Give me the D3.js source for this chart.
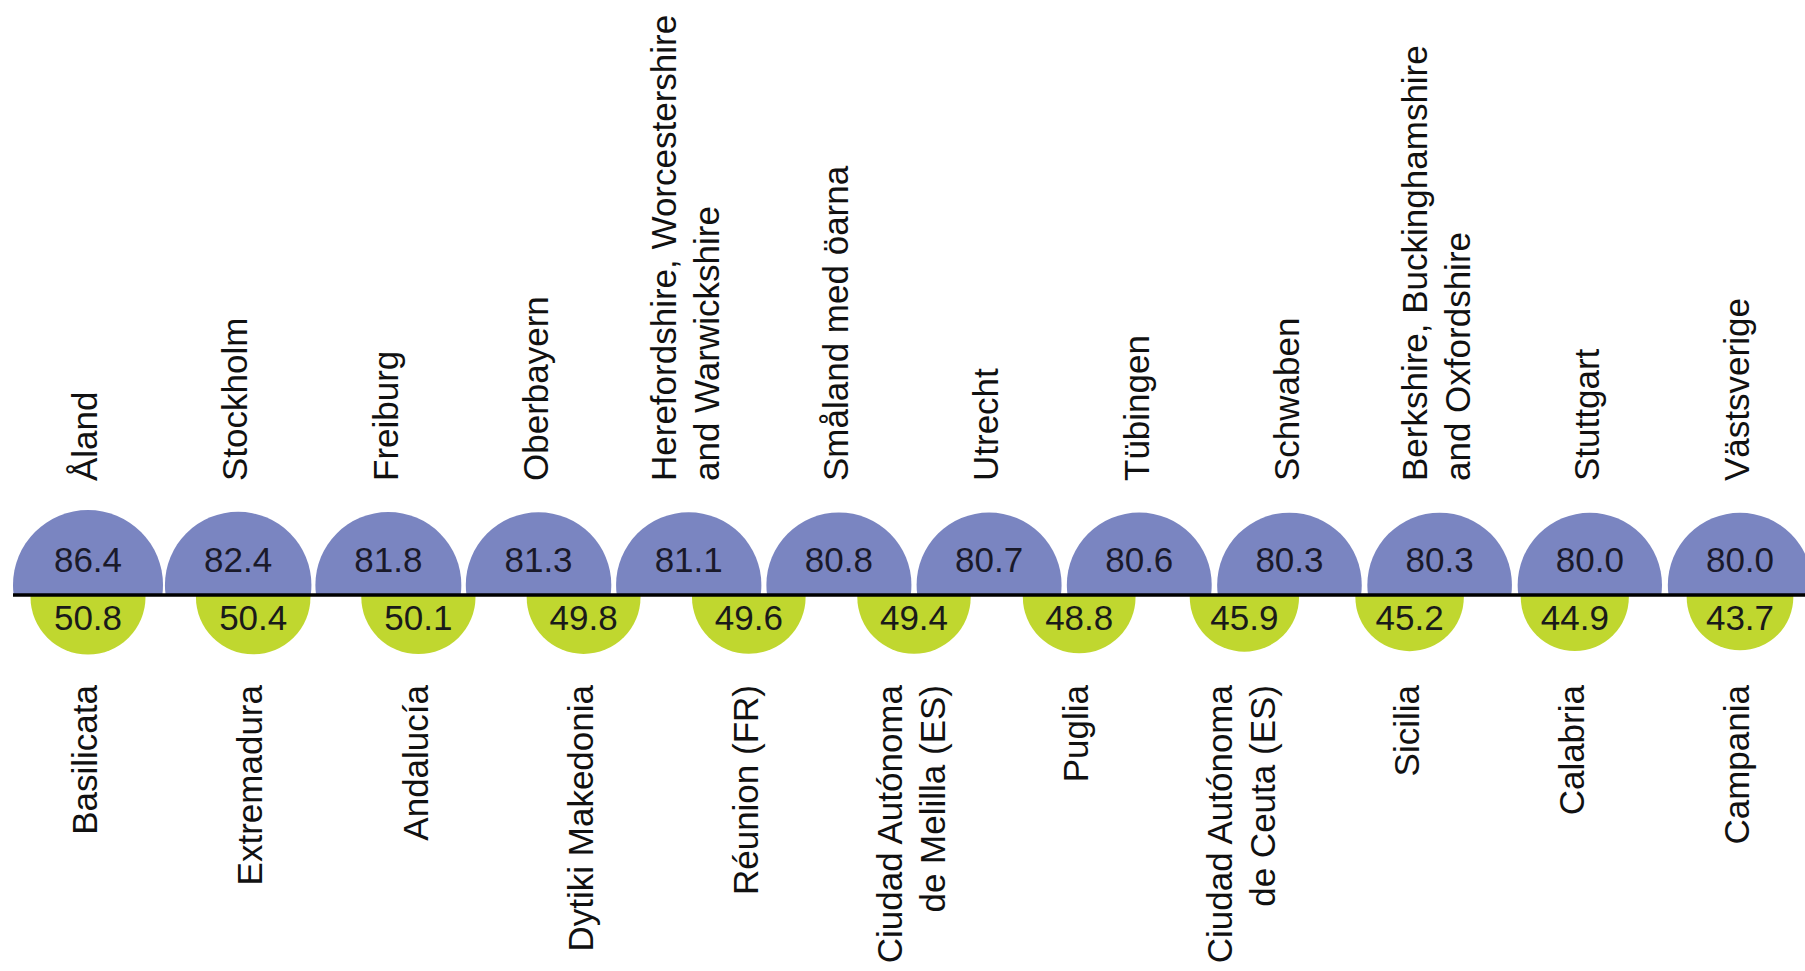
<!DOCTYPE html>
<html>
<head>
<meta charset="utf-8">
<script src="https://cdn.jsdelivr.net/npm/d3@7"></script>
<style>
  body { margin: 0; background: #fff; }
  svg { display: block; font-family: "Liberation Sans", Arial, sans-serif; }
</style>
</head>
<body>
<svg width="1805" height="971"></svg>
<script>
"use strict";

// highest regions (top, purple)
var topRegions = ["Åland", "Stockholm", "Freiburg", "Oberbayern",
  "Herefordshire, Worcestershire\nand Warwickshire", "Småland med öarna",
  "Utrecht", "Tübingen", "Schwaben",
  "Berkshire, Buckinghamshire\nand Oxfordshire", "Stuttgart", "Västsverige"];
var topValues = [86.4, 82.4, 81.8, 81.3, 81.1, 80.8, 80.7, 80.6, 80.3, 80.3, 80.0, 80.0];

// lowest regions (bottom, green)
var bottomRegions = ["Basilicata", "Extremadura", "Andalucía", "Dytiki Makedonia",
  "Réunion (FR)", "Ciudad Autónoma\nde Melilla (ES)", "Puglia",
  "Ciudad Autónoma\nde Ceuta (ES)", "Sicilia", "Calabria", "Campania"];
var bottomValues = [50.8, 50.4, 50.1, 49.8, 49.6, 49.4, 48.8, 45.9, 45.2, 44.9, 43.7];

var width = 1805, height = 971;
var baseY = 595;
var purple = "#7a85c1", green = "#c0d72f";

var svg = d3.select("svg");

var xTop = d3.scalePoint().domain(d3.range(topValues.length)).range([88, 1740]);
var xBottom = d3.scalePoint().domain(d3.range(bottomValues.length)).range([88, 1740]);
var r = d3.scaleSqrt().domain([0, d3.max(topValues)]).range([0, 75]);

var defs = svg.append("defs");
defs.append("clipPath").attr("id", "clipTop")
  .append("rect").attr("x", 0).attr("y", 0).attr("width", width).attr("height", baseY);
defs.append("clipPath").attr("id", "clipBottom")
  .append("rect").attr("x", 0).attr("y", baseY).attr("width", width).attr("height", height - baseY);

// top half circles
svg.append("g").attr("clip-path", "url(#clipTop)")
  .selectAll("circle").data(topValues).enter()
  .append("circle")
    .attr("cx", function(d, i) { return xTop(i); })
    .attr("cy", baseY - 10)
    .attr("r", function(d) { return r(d); })
    .attr("fill", purple);

// bottom half circles
svg.append("g").attr("clip-path", "url(#clipBottom)")
  .selectAll("circle").data(bottomValues).enter()
  .append("circle")
    .attr("cx", function(d, i) { return xBottom(i); })
    .attr("cy", baseY + 2)
    .attr("r", function(d) { return r(d); })
    .attr("fill", green);

// baseline
svg.append("line")
  .attr("x1", xTop(0) - r(topValues[0])).attr("x2", width)
  .attr("y1", baseY).attr("y2", baseY)
  .attr("stroke", "#000").attr("stroke-width", 3.5);

// values
svg.selectAll(".vtop").data(topValues).enter()
  .append("text").attr("class", "vtop")
    .attr("x", function(d, i) { return xTop(i); })
    .attr("y", baseY - 23)
    .attr("text-anchor", "middle")
    .attr("font-size", 35)
    .attr("fill", "#1a1a2a")
    .text(function(d) { return d.toFixed(1); });

svg.selectAll(".vbot").data(bottomValues).enter()
  .append("text").attr("class", "vbot")
    .attr("x", function(d, i) { return xBottom(i); })
    .attr("y", baseY + 35)
    .attr("text-anchor", "middle")
    .attr("font-size", 35)
    .attr("fill", "#1a1a1a")
    .text(function(d) { return d.toFixed(1); });

// rotated region labels (read bottom to top)
function addLabels(names, xs, y, anchor, cls) {
  var t = svg.selectAll("." + cls).data(names).enter()
    .append("text").attr("class", cls)
      .attr("transform", function(d, i) { return "translate(" + xs(i) + "," + y + ") rotate(-90)"; })
      .attr("text-anchor", anchor)
      .attr("font-size", 35)
      .attr("fill", "#111");
  t.each(function(d) {
    var lines = d.split("\n");
    var el = d3.select(this);
    lines.forEach(function(line, j) {
      el.append("tspan")
        .attr("x", 0)
        .attr("y", (j - (lines.length - 1) / 2) * 43 - 3)
        .attr("dy", "0.35em")
        .text(line);
    });
  });
}

addLabels(topRegions, xTop, 481, "start", "ltop");
addLabels(bottomRegions, xBottom, 685, "end", "lbot");
</script>
</body>
</html>
